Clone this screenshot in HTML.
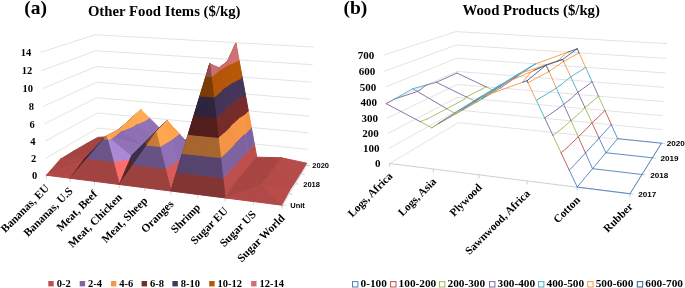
<!DOCTYPE html>
<html><head><meta charset="utf-8"><style>
html,body{margin:0;padding:0;background:#fff;}
body{width:685px;height:288px;overflow:hidden;position:relative;}
svg{position:absolute;left:0;top:0;will-change:transform;}
.t{font-family:"Liberation Serif",serif;font-weight:bold;fill:#000;}
.s{font-family:"Liberation Sans",sans-serif;font-weight:bold;fill:#000;}
</style></head><body>
<svg width="685" height="288" viewBox="0 0 685 288">
<line x1="46.45" y1="175.20" x2="98.07" y2="142.98" stroke="#d9d9d9" stroke-width="0.75"/>
<line x1="98.07" y1="142.98" x2="306.54" y2="165.58" stroke="#d9d9d9" stroke-width="0.75"/>
<line x1="45.65" y1="158.38" x2="97.69" y2="128.08" stroke="#d9d9d9" stroke-width="0.75"/>
<line x1="97.69" y1="128.08" x2="307.52" y2="149.33" stroke="#d9d9d9" stroke-width="0.75"/>
<line x1="44.85" y1="141.32" x2="97.30" y2="113.00" stroke="#d9d9d9" stroke-width="0.75"/>
<line x1="97.30" y1="113.00" x2="308.51" y2="132.86" stroke="#d9d9d9" stroke-width="0.75"/>
<line x1="44.03" y1="124.02" x2="96.91" y2="97.73" stroke="#d9d9d9" stroke-width="0.75"/>
<line x1="96.91" y1="97.73" x2="309.51" y2="116.16" stroke="#d9d9d9" stroke-width="0.75"/>
<line x1="43.20" y1="106.48" x2="96.51" y2="82.28" stroke="#d9d9d9" stroke-width="0.75"/>
<line x1="96.51" y1="82.28" x2="310.53" y2="99.24" stroke="#d9d9d9" stroke-width="0.75"/>
<line x1="42.36" y1="88.68" x2="96.11" y2="66.62" stroke="#d9d9d9" stroke-width="0.75"/>
<line x1="96.11" y1="66.62" x2="311.56" y2="82.08" stroke="#d9d9d9" stroke-width="0.75"/>
<line x1="41.50" y1="70.63" x2="95.71" y2="50.78" stroke="#d9d9d9" stroke-width="0.75"/>
<line x1="95.71" y1="50.78" x2="312.61" y2="64.69" stroke="#d9d9d9" stroke-width="0.75"/>
<line x1="40.64" y1="52.31" x2="95.30" y2="34.73" stroke="#d9d9d9" stroke-width="0.75"/>
<line x1="95.30" y1="34.73" x2="313.67" y2="47.05" stroke="#d9d9d9" stroke-width="0.75"/>
<line x1="46.45" y1="175.20" x2="282.22" y2="205.16" stroke="#bfbfbf" stroke-width="0.75"/>
<line x1="46.45" y1="175.20" x2="46.45" y2="178.70" stroke="#bfbfbf" stroke-width="0.75"/>
<line x1="70.19" y1="178.22" x2="70.19" y2="181.72" stroke="#bfbfbf" stroke-width="0.75"/>
<line x1="94.50" y1="181.31" x2="94.50" y2="184.81" stroke="#bfbfbf" stroke-width="0.75"/>
<line x1="119.38" y1="184.47" x2="119.38" y2="187.97" stroke="#bfbfbf" stroke-width="0.75"/>
<line x1="144.88" y1="187.71" x2="144.88" y2="191.21" stroke="#bfbfbf" stroke-width="0.75"/>
<line x1="170.99" y1="191.03" x2="170.99" y2="194.53" stroke="#bfbfbf" stroke-width="0.75"/>
<line x1="197.76" y1="194.43" x2="197.76" y2="197.93" stroke="#bfbfbf" stroke-width="0.75"/>
<line x1="225.21" y1="197.92" x2="225.21" y2="201.42" stroke="#bfbfbf" stroke-width="0.75"/>
<line x1="253.35" y1="201.49" x2="253.35" y2="204.99" stroke="#bfbfbf" stroke-width="0.75"/>
<line x1="282.22" y1="205.16" x2="282.22" y2="208.66" stroke="#bfbfbf" stroke-width="0.75"/>
<line x1="282.22" y1="205.16" x2="306.54" y2="165.58" stroke="#bfbfbf" stroke-width="0.75"/>
<line x1="282.22" y1="205.16" x2="285.72" y2="205.16" stroke="#bfbfbf" stroke-width="0.75"/>
<line x1="289.00" y1="194.13" x2="292.50" y2="194.13" stroke="#bfbfbf" stroke-width="0.75"/>
<line x1="295.28" y1="183.91" x2="298.78" y2="183.91" stroke="#bfbfbf" stroke-width="0.75"/>
<line x1="301.11" y1="174.42" x2="304.61" y2="174.42" stroke="#bfbfbf" stroke-width="0.75"/>
<line x1="306.54" y1="165.58" x2="310.04" y2="165.58" stroke="#bfbfbf" stroke-width="0.75"/>
<polygon points="86.22,143.84 119.18,136.14 97.93,137.34" fill="#9d423f" stroke="#9d423f" stroke-width="1" stroke-linejoin="round"/>
<polygon points="86.22,143.84 108.06,143.91 119.18,136.14" fill="#a44442" stroke="#a44442" stroke-width="1" stroke-linejoin="round"/>
<polygon points="108.06,143.91 115.42,136.15 123.56,130.70 119.18,136.14" fill="#4f2120" stroke="#4f2120" stroke-width="1" stroke-linejoin="round"/>
<polygon points="115.42,136.15 132.40,118.22 134.98,116.54 123.56,130.70" fill="#352943" stroke="#352943" stroke-width="1" stroke-linejoin="round"/>
<polygon points="132.40,118.22 140.74,109.41 134.98,116.54" fill="#663e1d" stroke="#663e1d" stroke-width="1" stroke-linejoin="round"/>
<polygon points="108.06,143.91 113.54,137.82 115.42,136.15" fill="#4f2120" stroke="#4f2120" stroke-width="1" stroke-linejoin="round"/>
<polygon points="113.54,137.82 126.49,123.39 132.40,118.22 115.42,136.15" fill="#352943" stroke="#352943" stroke-width="1" stroke-linejoin="round"/>
<polygon points="126.49,123.39 130.11,119.36 140.74,109.41 132.40,118.22" fill="#663e1d" stroke="#663e1d" stroke-width="1" stroke-linejoin="round"/>
<polygon points="153.29,138.82 163.22,131.63 149.32,117.89 145.43,120.41" fill="#9071b5" stroke="#9071b5" stroke-width="1" stroke-linejoin="round"/>
<polygon points="149.32,117.89 140.74,109.41 145.43,120.41" fill="#ffa850" stroke="#ffa850" stroke-width="1" stroke-linejoin="round"/>
<polygon points="136.03,124.32 153.29,138.82 145.43,120.41" fill="#9273b8" stroke="#9273b8" stroke-width="1" stroke-linejoin="round"/>
<polygon points="130.11,119.36 136.03,124.32 145.43,120.41 140.74,109.41" fill="#ffab51" stroke="#ffab51" stroke-width="1" stroke-linejoin="round"/>
<polygon points="182.36,139.94 185.96,140.14 174.55,135.87" fill="#b64c49" stroke="#b64c49" stroke-width="1" stroke-linejoin="round"/>
<polygon points="176.77,139.64 182.36,139.94 174.55,135.87 163.22,131.63" fill="#795f99" stroke="#795f99" stroke-width="1" stroke-linejoin="round"/>
<polygon points="153.29,138.82 176.77,139.64 163.22,131.63" fill="#6f578d" stroke="#6f578d" stroke-width="1" stroke-linejoin="round"/>
<polygon points="186.65,142.91 209.04,150.34 185.96,140.14 182.36,139.94" fill="#b94d4a" stroke="#b94d4a" stroke-width="1" stroke-linejoin="round"/>
<polygon points="176.77,139.64 186.65,142.91 182.36,139.94" fill="#7c619c" stroke="#7c619c" stroke-width="1" stroke-linejoin="round"/>
<polygon points="184.24,145.25 200.52,157.48 209.04,150.34 186.65,142.91" fill="#d15955" stroke="#d15955" stroke-width="1" stroke-linejoin="round"/>
<polygon points="176.77,139.64 184.24,145.25 186.65,142.91" fill="#8c6eb1" stroke="#8c6eb1" stroke-width="1" stroke-linejoin="round"/>
<polygon points="200.52,157.48 203.93,146.46 211.72,139.63 209.04,150.34" fill="#4f2120" stroke="#4f2120" stroke-width="1" stroke-linejoin="round"/>
<polygon points="203.93,146.46 209.20,129.43 215.61,124.12 211.72,139.63" fill="#352943" stroke="#352943" stroke-width="1" stroke-linejoin="round"/>
<polygon points="209.20,129.43 214.50,112.30 219.56,108.36 215.61,124.12" fill="#663e1d" stroke="#663e1d" stroke-width="1" stroke-linejoin="round"/>
<polygon points="214.50,112.30 219.83,95.05 223.57,92.35 219.56,108.36" fill="#311211" stroke="#311211" stroke-width="1" stroke-linejoin="round"/>
<polygon points="219.83,95.05 225.20,77.70 227.65,76.06 223.57,92.35" fill="#1d1625" stroke="#1d1625" stroke-width="1" stroke-linejoin="round"/>
<polygon points="225.20,77.70 230.61,60.23 231.80,59.50 227.65,76.06" fill="#4b2403" stroke="#4b2403" stroke-width="1" stroke-linejoin="round"/>
<polygon points="230.61,60.23 235.93,43.01 231.80,59.50" fill="#562e2e" stroke="#562e2e" stroke-width="1" stroke-linejoin="round"/>
<polygon points="200.52,157.48 203.39,147.27 203.93,146.46" fill="#4f2120" stroke="#4f2120" stroke-width="1" stroke-linejoin="round"/>
<polygon points="203.39,147.27 207.86,131.34 209.20,129.43 203.93,146.46" fill="#352943" stroke="#352943" stroke-width="1" stroke-linejoin="round"/>
<polygon points="207.86,131.34 212.41,115.13 214.50,112.30 209.20,129.43" fill="#663e1d" stroke="#663e1d" stroke-width="1" stroke-linejoin="round"/>
<polygon points="212.41,115.13 217.04,98.64 219.83,95.05 214.50,112.30" fill="#311211" stroke="#311211" stroke-width="1" stroke-linejoin="round"/>
<polygon points="217.04,98.64 221.75,81.86 225.20,77.70 219.83,95.05" fill="#1d1625" stroke="#1d1625" stroke-width="1" stroke-linejoin="round"/>
<polygon points="221.75,81.86 226.54,64.77 230.61,60.23 225.20,77.70" fill="#4b2403" stroke="#4b2403" stroke-width="1" stroke-linejoin="round"/>
<polygon points="226.54,64.77 227.51,61.32 235.93,43.01 230.61,60.23" fill="#562e2e" stroke="#562e2e" stroke-width="1" stroke-linejoin="round"/>
<polygon points="249.74,165.60 256.80,157.17 254.38,143.95 248.09,150.89" fill="#bc4f4c" stroke="#bc4f4c" stroke-width="1" stroke-linejoin="round"/>
<polygon points="254.38,143.95 251.37,127.49 246.05,132.85 248.09,150.89" fill="#7e629f" stroke="#7e629f" stroke-width="1" stroke-linejoin="round"/>
<polygon points="251.37,127.49 248.33,110.86 244.02,114.80 246.05,132.85" fill="#f29345" stroke="#f29345" stroke-width="1" stroke-linejoin="round"/>
<polygon points="248.33,110.86 245.27,94.07 241.99,96.76 244.02,114.80" fill="#752b29" stroke="#752b29" stroke-width="1" stroke-linejoin="round"/>
<polygon points="245.27,94.07 242.17,77.10 239.96,78.72 241.99,96.76" fill="#443458" stroke="#443458" stroke-width="1" stroke-linejoin="round"/>
<polygon points="242.17,77.10 239.03,59.97 237.92,60.68 239.96,78.72" fill="#b35508" stroke="#b35508" stroke-width="1" stroke-linejoin="round"/>
<polygon points="239.03,59.97 235.93,43.01 237.92,60.68" fill="#cc6e6e" stroke="#cc6e6e" stroke-width="1" stroke-linejoin="round"/>
<polygon points="246.81,151.83 249.74,165.60 248.09,150.89" fill="#c1514e" stroke="#c1514e" stroke-width="1" stroke-linejoin="round"/>
<polygon points="243.18,134.79 246.81,151.83 248.09,150.89 246.05,132.85" fill="#8165a3" stroke="#8165a3" stroke-width="1" stroke-linejoin="round"/>
<polygon points="239.50,117.57 243.18,134.79 246.05,132.85 244.02,114.80" fill="#f89746" stroke="#f89746" stroke-width="1" stroke-linejoin="round"/>
<polygon points="235.80,100.18 239.50,117.57 244.02,114.80 241.99,96.76" fill="#782c2a" stroke="#782c2a" stroke-width="1" stroke-linejoin="round"/>
<polygon points="232.05,82.63 235.80,100.18 241.99,96.76 239.96,78.72" fill="#45355b" stroke="#45355b" stroke-width="1" stroke-linejoin="round"/>
<polygon points="228.27,64.89 232.05,82.63 239.96,78.72 237.92,60.68" fill="#b75808" stroke="#b75808" stroke-width="1" stroke-linejoin="round"/>
<polygon points="227.51,61.32 228.27,64.89 237.92,60.68 235.93,43.01" fill="#d17171" stroke="#d17171" stroke-width="1" stroke-linejoin="round"/>
<polygon points="249.74,165.60 281.59,157.81 256.80,157.17" fill="#a54542" stroke="#a54542" stroke-width="1" stroke-linejoin="round"/>
<polygon points="249.74,165.60 275.31,166.70 281.59,157.81" fill="#a74543" stroke="#a74543" stroke-width="1" stroke-linejoin="round"/>
<polygon points="301.25,172.09 306.69,163.16 281.59,157.81" fill="#b64c49" stroke="#b64c49" stroke-width="1" stroke-linejoin="round"/>
<polygon points="275.31,166.70 301.25,172.09 281.59,157.81" fill="#b64c49" stroke="#b64c49" stroke-width="1" stroke-linejoin="round"/>
<polygon points="73.74,151.09 108.06,143.91 86.22,143.84" fill="#a34441" stroke="#a34441" stroke-width="1" stroke-linejoin="round"/>
<polygon points="73.74,151.09 96.18,151.49 108.06,143.91" fill="#a44442" stroke="#a44442" stroke-width="1" stroke-linejoin="round"/>
<polygon points="96.18,151.49 104.74,143.39 113.54,137.82 108.06,143.91" fill="#4f2120" stroke="#4f2120" stroke-width="1" stroke-linejoin="round"/>
<polygon points="104.74,143.39 124.68,124.51 126.49,123.39 113.54,137.82" fill="#352943" stroke="#352943" stroke-width="1" stroke-linejoin="round"/>
<polygon points="124.68,124.51 130.11,119.36 126.49,123.39" fill="#663e1d" stroke="#663e1d" stroke-width="1" stroke-linejoin="round"/>
<polygon points="96.18,151.49 102.49,145.39 104.74,143.39" fill="#532321" stroke="#532321" stroke-width="1" stroke-linejoin="round"/>
<polygon points="102.49,145.39 117.63,130.75 124.68,124.51 104.74,143.39" fill="#382b46" stroke="#382b46" stroke-width="1" stroke-linejoin="round"/>
<polygon points="117.63,130.75 118.78,129.64 130.11,119.36 124.68,124.51" fill="#6b411e" stroke="#6b411e" stroke-width="1" stroke-linejoin="round"/>
<polygon points="142.66,145.68 153.29,138.82 136.03,124.32 133.39,126.22" fill="#8e6fb3" stroke="#8e6fb3" stroke-width="1" stroke-linejoin="round"/>
<polygon points="136.03,124.32 130.11,119.36 133.39,126.22" fill="#ffa64f" stroke="#ffa64f" stroke-width="1" stroke-linejoin="round"/>
<polygon points="120.94,131.09 142.66,145.68 133.39,126.22" fill="#8f70b4" stroke="#8f70b4" stroke-width="1" stroke-linejoin="round"/>
<polygon points="118.78,129.64 120.94,131.09 133.39,126.22 130.11,119.36" fill="#ffa74f" stroke="#ffa74f" stroke-width="1" stroke-linejoin="round"/>
<polygon points="172.59,131.48 176.77,139.64 153.29,138.82 159.46,130.45" fill="#534169" stroke="#534169" stroke-width="1" stroke-linejoin="round"/>
<polygon points="166.90,120.38 172.59,131.48 159.46,130.45" fill="#a0612d" stroke="#a0612d" stroke-width="1" stroke-linejoin="round"/>
<polygon points="142.66,145.68 153.48,134.39 159.46,130.45 153.29,138.82" fill="#352943" stroke="#352943" stroke-width="1" stroke-linejoin="round"/>
<polygon points="153.48,134.39 166.90,120.38 159.46,130.45" fill="#663e1d" stroke="#663e1d" stroke-width="1" stroke-linejoin="round"/>
<polygon points="192.24,148.34 200.52,157.48 184.24,145.25" fill="#a34441" stroke="#a34441" stroke-width="1" stroke-linejoin="round"/>
<polygon points="179.17,133.92 192.24,148.34 184.24,145.25 176.77,139.64 172.59,131.48" fill="#6d5589" stroke="#6d5589" stroke-width="1" stroke-linejoin="round"/>
<polygon points="166.90,120.38 179.17,133.92 172.59,131.48" fill="#d27f3b" stroke="#d27f3b" stroke-width="1" stroke-linejoin="round"/>
<polygon points="185.20,154.44 191.38,165.95 200.52,157.48 192.24,148.34" fill="#d05855" stroke="#d05855" stroke-width="1" stroke-linejoin="round"/>
<polygon points="175.64,136.64 185.20,154.44 192.24,148.34 179.17,133.92" fill="#8b6db0" stroke="#8b6db0" stroke-width="1" stroke-linejoin="round"/>
<polygon points="166.90,120.38 175.64,136.64 179.17,133.92" fill="#ffa34d" stroke="#ffa34d" stroke-width="1" stroke-linejoin="round"/>
<polygon points="191.38,165.95 195.34,154.49 203.39,147.27 200.52,157.48" fill="#4f2120" stroke="#4f2120" stroke-width="1" stroke-linejoin="round"/>
<polygon points="195.34,154.49 201.45,136.78 207.86,131.34 203.39,147.27" fill="#352943" stroke="#352943" stroke-width="1" stroke-linejoin="round"/>
<polygon points="201.45,136.78 207.60,118.98 212.41,115.13 207.86,131.34" fill="#663e1d" stroke="#663e1d" stroke-width="1" stroke-linejoin="round"/>
<polygon points="207.60,118.98 213.79,101.07 217.04,98.64 212.41,115.13" fill="#311211" stroke="#311211" stroke-width="1" stroke-linejoin="round"/>
<polygon points="213.79,101.07 220.01,83.06 221.75,81.86 217.04,98.64" fill="#1d1625" stroke="#1d1625" stroke-width="1" stroke-linejoin="round"/>
<polygon points="220.01,83.06 226.26,64.96 226.54,64.77 221.75,81.86" fill="#4b2403" stroke="#4b2403" stroke-width="1" stroke-linejoin="round"/>
<polygon points="226.26,64.96 227.51,61.32 226.54,64.77" fill="#562e2e" stroke="#562e2e" stroke-width="1" stroke-linejoin="round"/>
<polygon points="191.38,165.95 194.33,155.43 195.34,154.49" fill="#4f2120" stroke="#4f2120" stroke-width="1" stroke-linejoin="round"/>
<polygon points="194.33,155.43 198.94,139.01 201.45,136.78 195.34,154.49" fill="#352943" stroke="#352943" stroke-width="1" stroke-linejoin="round"/>
<polygon points="198.94,139.01 203.62,122.29 207.60,118.98 201.45,136.78" fill="#663e1d" stroke="#663e1d" stroke-width="1" stroke-linejoin="round"/>
<polygon points="203.62,122.29 208.40,105.26 213.79,101.07 207.60,118.98" fill="#311211" stroke="#311211" stroke-width="1" stroke-linejoin="round"/>
<polygon points="208.40,105.26 213.26,87.93 220.01,83.06 213.79,101.07" fill="#1d1625" stroke="#1d1625" stroke-width="1" stroke-linejoin="round"/>
<polygon points="213.26,87.93 218.21,70.27 226.26,64.96 220.01,83.06" fill="#4b2403" stroke="#4b2403" stroke-width="1" stroke-linejoin="round"/>
<polygon points="218.21,70.27 218.86,67.95 227.51,61.32 226.26,64.96" fill="#562e2e" stroke="#562e2e" stroke-width="1" stroke-linejoin="round"/>
<polygon points="242.19,174.48 249.74,165.60 246.81,151.83 240.20,159.15" fill="#be4f4c" stroke="#be4f4c" stroke-width="1" stroke-linejoin="round"/>
<polygon points="246.81,151.83 243.18,134.79 237.75,140.26 240.20,159.15" fill="#7f63a1" stroke="#7f63a1" stroke-width="1" stroke-linejoin="round"/>
<polygon points="243.18,134.79 239.50,117.57 235.31,121.41 237.75,140.26" fill="#f59545" stroke="#f59545" stroke-width="1" stroke-linejoin="round"/>
<polygon points="239.50,117.57 235.80,100.18 232.87,102.59 235.31,121.41" fill="#762c2a" stroke="#762c2a" stroke-width="1" stroke-linejoin="round"/>
<polygon points="235.80,100.18 232.05,82.63 230.43,83.81 232.87,102.59" fill="#443559" stroke="#443559" stroke-width="1" stroke-linejoin="round"/>
<polygon points="232.05,82.63 228.27,64.89 228.00,65.07 230.43,83.81" fill="#b45608" stroke="#b45608" stroke-width="1" stroke-linejoin="round"/>
<polygon points="228.27,64.89 227.51,61.32 228.00,65.07" fill="#ce6f6f" stroke="#ce6f6f" stroke-width="1" stroke-linejoin="round"/>
<polygon points="239.09,160.33 242.19,174.48 240.20,159.15" fill="#bf504d" stroke="#bf504d" stroke-width="1" stroke-linejoin="round"/>
<polygon points="235.23,142.70 239.09,160.33 240.20,159.15 237.75,140.26" fill="#7f63a1" stroke="#7f63a1" stroke-width="1" stroke-linejoin="round"/>
<polygon points="231.33,124.89 235.23,142.70 237.75,140.26 235.31,121.41" fill="#f59546" stroke="#f59546" stroke-width="1" stroke-linejoin="round"/>
<polygon points="227.39,106.89 231.33,124.89 235.31,121.41 232.87,102.59" fill="#762c2a" stroke="#762c2a" stroke-width="1" stroke-linejoin="round"/>
<polygon points="223.41,88.71 227.39,106.89 232.87,102.59 230.43,83.81" fill="#453559" stroke="#453559" stroke-width="1" stroke-linejoin="round"/>
<polygon points="219.38,70.35 223.41,88.71 230.43,83.81 228.00,65.07" fill="#b55608" stroke="#b55608" stroke-width="1" stroke-linejoin="round"/>
<polygon points="218.86,67.95 219.38,70.35 228.00,65.07 227.51,61.32" fill="#cf6f6f" stroke="#cf6f6f" stroke-width="1" stroke-linejoin="round"/>
<polygon points="242.19,174.48 275.31,166.70 249.74,165.60" fill="#a64543" stroke="#a64543" stroke-width="1" stroke-linejoin="round"/>
<polygon points="242.19,174.48 268.58,175.98 275.31,166.70" fill="#a74643" stroke="#a74643" stroke-width="1" stroke-linejoin="round"/>
<polygon points="295.42,181.50 301.25,172.09 275.31,166.70" fill="#b54c49" stroke="#b54c49" stroke-width="1" stroke-linejoin="round"/>
<polygon points="268.58,175.98 295.42,181.50 275.31,166.70" fill="#b54b49" stroke="#b54b49" stroke-width="1" stroke-linejoin="round"/>
<polygon points="60.40,159.17 96.18,151.49 73.74,151.09" fill="#a44442" stroke="#a44442" stroke-width="1" stroke-linejoin="round"/>
<polygon points="60.40,159.17 83.48,160.10 96.18,151.49" fill="#a64543" stroke="#a64543" stroke-width="1" stroke-linejoin="round"/>
<polygon points="102.49,145.39 96.18,151.49 98.86,147.46" fill="#502120" stroke="#502120" stroke-width="1" stroke-linejoin="round"/>
<polygon points="117.63,130.75 102.49,145.39 98.86,147.46 105.50,137.48" fill="#362a44" stroke="#362a44" stroke-width="1" stroke-linejoin="round"/>
<polygon points="106.57,135.87 118.78,129.64 117.63,130.75 105.50,137.48" fill="#673f1d" stroke="#673f1d" stroke-width="1" stroke-linejoin="round"/>
<polygon points="83.48,160.10 89.85,153.41 98.86,147.46 96.18,151.49" fill="#4f2120" stroke="#4f2120" stroke-width="1" stroke-linejoin="round"/>
<polygon points="89.85,153.41 104.29,138.26 105.50,137.48 98.86,147.46" fill="#352943" stroke="#352943" stroke-width="1" stroke-linejoin="round"/>
<polygon points="104.29,138.26 106.57,135.87 105.50,137.48" fill="#663e1d" stroke="#663e1d" stroke-width="1" stroke-linejoin="round"/>
<polygon points="112.91,137.59 142.66,145.68 120.94,131.09" fill="#8a6cae" stroke="#8a6cae" stroke-width="1" stroke-linejoin="round"/>
<polygon points="106.57,135.87 112.91,137.59 120.94,131.09 118.78,129.64" fill="#ffa24c" stroke="#ffa24c" stroke-width="1" stroke-linejoin="round"/>
<polygon points="110.19,138.88 131.29,156.44 142.66,145.68 112.91,137.59" fill="#9172b7" stroke="#9172b7" stroke-width="1" stroke-linejoin="round"/>
<polygon points="106.57,135.87 110.19,138.88 112.91,137.59" fill="#ffaa51" stroke="#ffaa51" stroke-width="1" stroke-linejoin="round"/>
<polygon points="131.29,156.44 149.10,138.41 153.48,134.39 142.66,145.68" fill="#352943" stroke="#352943" stroke-width="1" stroke-linejoin="round"/>
<polygon points="149.10,138.41 166.90,120.38 153.48,134.39" fill="#663e1d" stroke="#663e1d" stroke-width="1" stroke-linejoin="round"/>
<polygon points="131.29,156.44 145.44,142.61 149.10,138.41" fill="#362a44" stroke="#362a44" stroke-width="1" stroke-linejoin="round"/>
<polygon points="145.44,142.61 156.14,132.15 166.90,120.38 149.10,138.41" fill="#683f1e" stroke="#683f1e" stroke-width="1" stroke-linejoin="round"/>
<polygon points="181.57,175.91 191.38,165.95 185.20,154.44 177.55,160.69" fill="#d15855" stroke="#d15855" stroke-width="1" stroke-linejoin="round"/>
<polygon points="185.20,154.44 175.64,136.64 171.92,139.37 177.55,160.69" fill="#8c6eb1" stroke="#8c6eb1" stroke-width="1" stroke-linejoin="round"/>
<polygon points="175.64,136.64 166.90,120.38 171.92,139.37" fill="#ffa44e" stroke="#ffa44e" stroke-width="1" stroke-linejoin="round"/>
<polygon points="174.07,163.00 181.57,175.91 177.55,160.69" fill="#d55b57" stroke="#d55b57" stroke-width="1" stroke-linejoin="round"/>
<polygon points="163.31,144.50 174.07,163.00 177.55,160.69 171.92,139.37" fill="#8f71b5" stroke="#8f71b5" stroke-width="1" stroke-linejoin="round"/>
<polygon points="156.14,132.15 163.31,144.50 171.92,139.37 166.90,120.38" fill="#ffa750" stroke="#ffa750" stroke-width="1" stroke-linejoin="round"/>
<polygon points="181.57,175.91 184.51,164.19 193.12,156.28 191.38,165.95" fill="#4f2120" stroke="#4f2120" stroke-width="1" stroke-linejoin="round"/>
<polygon points="184.51,164.19 188.79,147.20 195.86,141.05 193.12,156.28" fill="#352943" stroke="#352943" stroke-width="1" stroke-linejoin="round"/>
<polygon points="188.79,147.20 193.14,129.89 198.69,125.36 195.86,141.05" fill="#663e1d" stroke="#663e1d" stroke-width="1" stroke-linejoin="round"/>
<polygon points="193.14,129.89 197.58,112.26 201.60,109.20 198.69,125.36" fill="#311211" stroke="#311211" stroke-width="1" stroke-linejoin="round"/>
<polygon points="197.58,112.26 202.10,94.30 204.59,92.54 201.60,109.20" fill="#1d1625" stroke="#1d1625" stroke-width="1" stroke-linejoin="round"/>
<polygon points="202.10,94.30 206.70,76.00 207.68,75.37 204.59,92.54" fill="#4b2403" stroke="#4b2403" stroke-width="1" stroke-linejoin="round"/>
<polygon points="206.70,76.00 209.76,63.83 207.68,75.37" fill="#562e2e" stroke="#562e2e" stroke-width="1" stroke-linejoin="round"/>
<polygon points="194.33,155.43 191.38,165.95 193.12,156.28" fill="#4f2120" stroke="#4f2120" stroke-width="1" stroke-linejoin="round"/>
<polygon points="198.94,139.01 194.33,155.43 193.12,156.28 195.86,141.05" fill="#352943" stroke="#352943" stroke-width="1" stroke-linejoin="round"/>
<polygon points="203.62,122.29 198.94,139.01 195.86,141.05 198.69,125.36" fill="#663e1d" stroke="#663e1d" stroke-width="1" stroke-linejoin="round"/>
<polygon points="208.40,105.26 203.62,122.29 198.69,125.36 201.60,109.20" fill="#311211" stroke="#311211" stroke-width="1" stroke-linejoin="round"/>
<polygon points="213.26,87.93 208.40,105.26 201.60,109.20 204.59,92.54" fill="#1d1625" stroke="#1d1625" stroke-width="1" stroke-linejoin="round"/>
<polygon points="218.21,70.27 213.26,87.93 204.59,92.54 207.68,75.37" fill="#4b2403" stroke="#4b2403" stroke-width="1" stroke-linejoin="round"/>
<polygon points="209.76,63.83 218.86,67.95 218.21,70.27 207.68,75.37" fill="#562e2e" stroke="#562e2e" stroke-width="1" stroke-linejoin="round"/>
<polygon points="238.37,161.47 242.19,174.48 239.09,160.33" fill="#bc4e4b" stroke="#bc4e4b" stroke-width="1" stroke-linejoin="round"/>
<polygon points="233.57,145.09 238.37,161.47 239.09,160.33 235.23,142.70" fill="#7d629f" stroke="#7d629f" stroke-width="1" stroke-linejoin="round"/>
<polygon points="228.67,128.34 233.57,145.09 235.23,142.70 231.33,124.89" fill="#f29345" stroke="#f29345" stroke-width="1" stroke-linejoin="round"/>
<polygon points="223.65,111.22 228.67,128.34 231.33,124.89 227.39,106.89" fill="#752b29" stroke="#752b29" stroke-width="1" stroke-linejoin="round"/>
<polygon points="218.52,93.70 223.65,111.22 227.39,106.89 223.41,88.71" fill="#443458" stroke="#443458" stroke-width="1" stroke-linejoin="round"/>
<polygon points="213.26,75.79 218.52,93.70 223.41,88.71 219.38,70.35" fill="#b25508" stroke="#b25508" stroke-width="1" stroke-linejoin="round"/>
<polygon points="209.76,63.83 213.26,75.79 219.38,70.35 218.86,67.95" fill="#cc6e6e" stroke="#cc6e6e" stroke-width="1" stroke-linejoin="round"/>
<polygon points="231.14,169.50 234.07,183.94 242.19,174.48 238.37,161.47" fill="#bd4f4c" stroke="#bd4f4c" stroke-width="1" stroke-linejoin="round"/>
<polygon points="227.46,151.29 231.14,169.50 238.37,161.47 233.57,145.09" fill="#7e63a0" stroke="#7e63a0" stroke-width="1" stroke-linejoin="round"/>
<polygon points="223.73,132.87 227.46,151.29 233.57,145.09 228.67,128.34" fill="#f39445" stroke="#f39445" stroke-width="1" stroke-linejoin="round"/>
<polygon points="219.97,114.26 223.73,132.87 228.67,128.34 223.65,111.22" fill="#752b29" stroke="#752b29" stroke-width="1" stroke-linejoin="round"/>
<polygon points="216.16,95.44 219.97,114.26 223.65,111.22 218.52,93.70" fill="#443459" stroke="#443459" stroke-width="1" stroke-linejoin="round"/>
<polygon points="212.31,76.41 216.16,95.44 218.52,93.70 213.26,75.79" fill="#b35608" stroke="#b35608" stroke-width="1" stroke-linejoin="round"/>
<polygon points="209.76,63.83 212.31,76.41 213.26,75.79" fill="#cd6e6e" stroke="#cd6e6e" stroke-width="1" stroke-linejoin="round"/>
<polygon points="261.37,185.27 268.58,175.98 242.19,174.48" fill="#a74543" stroke="#a74543" stroke-width="1" stroke-linejoin="round"/>
<polygon points="234.07,183.94 261.37,185.27 242.19,174.48" fill="#a64542" stroke="#a64542" stroke-width="1" stroke-linejoin="round"/>
<polygon points="289.17,191.01 295.42,181.50 268.58,175.98" fill="#b44b48" stroke="#b44b48" stroke-width="1" stroke-linejoin="round"/>
<polygon points="261.37,185.27 289.17,191.01 268.58,175.98" fill="#b44b48" stroke="#b44b48" stroke-width="1" stroke-linejoin="round"/>
<polygon points="46.45,175.20 83.48,160.10 60.40,159.17" fill="#aa4744" stroke="#aa4744" stroke-width="1" stroke-linejoin="round"/>
<polygon points="46.45,175.20 70.19,178.22 83.48,160.10" fill="#b14a47" stroke="#b14a47" stroke-width="1" stroke-linejoin="round"/>
<polygon points="70.19,178.22 87.16,158.47 89.85,153.41 83.48,160.10" fill="#532221" stroke="#532221" stroke-width="1" stroke-linejoin="round"/>
<polygon points="87.16,158.47 103.98,138.89 104.29,138.26 89.85,153.41" fill="#372b46" stroke="#372b46" stroke-width="1" stroke-linejoin="round"/>
<polygon points="103.98,138.89 106.57,135.87 104.29,138.26" fill="#6a411e" stroke="#6a411e" stroke-width="1" stroke-linejoin="round"/>
<polygon points="70.19,178.22 94.50,181.31 100.16,159.98 87.16,158.47" fill="#a14341" stroke="#a14341" stroke-width="1" stroke-linejoin="round"/>
<polygon points="100.16,159.98 105.72,139.07 103.98,138.89 87.16,158.47" fill="#6b5488" stroke="#6b5488" stroke-width="1" stroke-linejoin="round"/>
<polygon points="105.72,139.07 106.57,135.87 103.98,138.89" fill="#cf7e3b" stroke="#cf7e3b" stroke-width="1" stroke-linejoin="round"/>
<polygon points="119.38,184.47 130.24,158.92 113.33,161.52" fill="#fd6e6b" stroke="#fd6e6b" stroke-width="1" stroke-linejoin="round"/>
<polygon points="130.24,158.92 131.29,156.44 110.19,138.88 107.46,139.26 113.33,161.52" fill="#ac88d7" stroke="#ac88d7" stroke-width="1" stroke-linejoin="round"/>
<polygon points="110.19,138.88 106.57,135.87 107.46,139.26" fill="#ffc862" stroke="#ffc862" stroke-width="1" stroke-linejoin="round"/>
<polygon points="94.50,181.31 119.38,184.47 113.33,161.52 100.16,159.98" fill="#a14341" stroke="#a14341" stroke-width="1" stroke-linejoin="round"/>
<polygon points="113.33,161.52 107.46,139.26 105.72,139.07 100.16,159.98" fill="#6b5488" stroke="#6b5488" stroke-width="1" stroke-linejoin="round"/>
<polygon points="107.46,139.26 106.57,135.87 105.72,139.07" fill="#cf7e3b" stroke="#cf7e3b" stroke-width="1" stroke-linejoin="round"/>
<polygon points="119.38,184.47 133.23,164.77 130.24,158.92" fill="#592524" stroke="#592524" stroke-width="1" stroke-linejoin="round"/>
<polygon points="133.23,164.77 147.01,145.15 145.44,142.61 131.29,156.44 130.24,158.92" fill="#3c2f4b" stroke="#3c2f4b" stroke-width="1" stroke-linejoin="round"/>
<polygon points="147.01,145.15 156.14,132.15 145.44,142.61" fill="#734621" stroke="#734621" stroke-width="1" stroke-linejoin="round"/>
<polygon points="119.38,184.47 144.88,187.71 149.15,166.63 133.23,164.77" fill="#9b413e" stroke="#9b413e" stroke-width="1" stroke-linejoin="round"/>
<polygon points="149.15,166.63 153.37,145.83 147.01,145.15 133.23,164.77" fill="#685183" stroke="#685183" stroke-width="1" stroke-linejoin="round"/>
<polygon points="153.37,145.83 156.14,132.15 147.01,145.15" fill="#c87939" stroke="#c87939" stroke-width="1" stroke-linejoin="round"/>
<polygon points="170.99,191.03 181.57,175.91 174.07,163.00 165.31,168.52" fill="#d75b58" stroke="#d75b58" stroke-width="1" stroke-linejoin="round"/>
<polygon points="174.07,163.00 163.31,144.50 159.76,146.51 165.31,168.52" fill="#9071b5" stroke="#9071b5" stroke-width="1" stroke-linejoin="round"/>
<polygon points="163.31,144.50 156.14,132.15 159.76,146.51" fill="#ffa850" stroke="#ffa850" stroke-width="1" stroke-linejoin="round"/>
<polygon points="144.88,187.71 170.99,191.03 165.31,168.52 149.15,166.63" fill="#9c413e" stroke="#9c413e" stroke-width="1" stroke-linejoin="round"/>
<polygon points="165.31,168.52 159.76,146.51 153.37,145.83 149.15,166.63" fill="#685183" stroke="#685183" stroke-width="1" stroke-linejoin="round"/>
<polygon points="159.76,146.51 156.14,132.15 153.37,145.83" fill="#c87a39" stroke="#c87a39" stroke-width="1" stroke-linejoin="round"/>
<polygon points="170.99,191.03 176.70,172.29 184.51,164.19 181.57,175.91" fill="#4f2120" stroke="#4f2120" stroke-width="1" stroke-linejoin="round"/>
<polygon points="176.70,172.29 182.45,153.43 188.79,147.20 184.51,164.19" fill="#352943" stroke="#352943" stroke-width="1" stroke-linejoin="round"/>
<polygon points="182.45,153.43 188.25,134.43 193.14,129.89 188.79,147.20" fill="#663e1d" stroke="#663e1d" stroke-width="1" stroke-linejoin="round"/>
<polygon points="188.25,134.43 194.08,115.29 197.58,112.26 193.14,129.89" fill="#311211" stroke="#311211" stroke-width="1" stroke-linejoin="round"/>
<polygon points="194.08,115.29 199.95,96.02 202.10,94.30 197.58,112.26" fill="#1d1625" stroke="#1d1625" stroke-width="1" stroke-linejoin="round"/>
<polygon points="199.95,96.02 205.86,76.62 206.70,76.00 202.10,94.30" fill="#4b2403" stroke="#4b2403" stroke-width="1" stroke-linejoin="round"/>
<polygon points="205.86,76.62 209.76,63.83 206.70,76.00" fill="#562e2e" stroke="#562e2e" stroke-width="1" stroke-linejoin="round"/>
<polygon points="170.99,191.03 197.76,194.43 199.55,174.99 176.70,172.29" fill="#823634" stroke="#823634" stroke-width="1" stroke-linejoin="round"/>
<polygon points="199.55,174.99 201.34,155.48 182.45,153.43 176.70,172.29" fill="#57446e" stroke="#57446e" stroke-width="1" stroke-linejoin="round"/>
<polygon points="201.34,155.48 203.14,135.91 188.25,134.43 182.45,153.43" fill="#a7652f" stroke="#a7652f" stroke-width="1" stroke-linejoin="round"/>
<polygon points="203.14,135.91 204.94,116.28 194.08,115.29 188.25,134.43" fill="#511e1c" stroke="#511e1c" stroke-width="1" stroke-linejoin="round"/>
<polygon points="204.94,116.28 206.75,96.58 199.95,96.02 194.08,115.29" fill="#2f243d" stroke="#2f243d" stroke-width="1" stroke-linejoin="round"/>
<polygon points="206.75,96.58 208.57,76.81 205.86,76.62 199.95,96.02" fill="#7b3b05" stroke="#7b3b05" stroke-width="1" stroke-linejoin="round"/>
<polygon points="208.57,76.81 209.76,63.83 205.86,76.62" fill="#8d4c4c" stroke="#8d4c4c" stroke-width="1" stroke-linejoin="round"/>
<polygon points="225.21,197.92 234.07,183.94 231.14,169.50 222.88,177.74" fill="#be4f4c" stroke="#be4f4c" stroke-width="1" stroke-linejoin="round"/>
<polygon points="231.14,169.50 227.46,151.29 220.56,157.58 222.88,177.74" fill="#7f63a0" stroke="#7f63a0" stroke-width="1" stroke-linejoin="round"/>
<polygon points="227.46,151.29 223.73,132.87 218.24,137.42 220.56,157.58" fill="#f49445" stroke="#f49445" stroke-width="1" stroke-linejoin="round"/>
<polygon points="223.73,132.87 219.97,114.26 215.92,117.28 218.24,137.42" fill="#762c2a" stroke="#762c2a" stroke-width="1" stroke-linejoin="round"/>
<polygon points="219.97,114.26 216.16,95.44 213.60,97.14 215.92,117.28" fill="#443459" stroke="#443459" stroke-width="1" stroke-linejoin="round"/>
<polygon points="216.16,95.44 212.31,76.41 211.28,77.01 213.60,97.14" fill="#b45608" stroke="#b45608" stroke-width="1" stroke-linejoin="round"/>
<polygon points="212.31,76.41 209.76,63.83 211.28,77.01" fill="#ce6f6f" stroke="#ce6f6f" stroke-width="1" stroke-linejoin="round"/>
<polygon points="197.76,194.43 225.21,197.92 222.88,177.74 199.55,174.99" fill="#823634" stroke="#823634" stroke-width="1" stroke-linejoin="round"/>
<polygon points="222.88,177.74 220.56,157.58 201.34,155.48 199.55,174.99" fill="#57446e" stroke="#57446e" stroke-width="1" stroke-linejoin="round"/>
<polygon points="220.56,157.58 218.24,137.42 203.14,135.91 201.34,155.48" fill="#a7662f" stroke="#a7662f" stroke-width="1" stroke-linejoin="round"/>
<polygon points="218.24,137.42 215.92,117.28 204.94,116.28 203.14,135.91" fill="#511e1c" stroke="#511e1c" stroke-width="1" stroke-linejoin="round"/>
<polygon points="215.92,117.28 213.60,97.14 206.75,96.58 204.94,116.28" fill="#2f243d" stroke="#2f243d" stroke-width="1" stroke-linejoin="round"/>
<polygon points="213.60,97.14 211.28,77.01 208.57,76.81 206.75,96.58" fill="#7b3b05" stroke="#7b3b05" stroke-width="1" stroke-linejoin="round"/>
<polygon points="211.28,77.01 209.76,63.83 208.57,76.81" fill="#8d4c4c" stroke="#8d4c4c" stroke-width="1" stroke-linejoin="round"/>
<polygon points="225.21,197.92 261.37,185.27 234.07,183.94" fill="#a84644" stroke="#a84644" stroke-width="1" stroke-linejoin="round"/>
<polygon points="225.21,197.92 253.35,201.49 261.37,185.27" fill="#b04947" stroke="#b04947" stroke-width="1" stroke-linejoin="round"/>
<polygon points="282.22,205.16 289.17,191.01 261.37,185.27" fill="#b74c49" stroke="#b74c49" stroke-width="1" stroke-linejoin="round"/>
<polygon points="253.35,201.49 282.22,205.16 261.37,185.27" fill="#b04947" stroke="#b04947" stroke-width="1" stroke-linejoin="round"/>
<line x1="282.22" y1="205.16" x2="306.54" y2="165.58" stroke="#e6e6e6" stroke-width="0.8"/>
<line x1="389.61" y1="163.46" x2="458.37" y2="122.65" stroke="#d9d9d9" stroke-width="0.75"/>
<line x1="458.37" y1="122.65" x2="661.47" y2="143.44" stroke="#d9d9d9" stroke-width="0.75"/>
<line x1="388.78" y1="148.56" x2="458.03" y2="110.04" stroke="#d9d9d9" stroke-width="0.75"/>
<line x1="458.03" y1="110.04" x2="662.24" y2="129.66" stroke="#d9d9d9" stroke-width="0.75"/>
<line x1="387.93" y1="133.47" x2="457.68" y2="97.31" stroke="#d9d9d9" stroke-width="0.75"/>
<line x1="457.68" y1="97.31" x2="663.02" y2="115.72" stroke="#d9d9d9" stroke-width="0.75"/>
<line x1="387.08" y1="118.20" x2="457.33" y2="84.44" stroke="#d9d9d9" stroke-width="0.75"/>
<line x1="457.33" y1="84.44" x2="663.80" y2="101.63" stroke="#d9d9d9" stroke-width="0.75"/>
<line x1="386.21" y1="102.74" x2="456.98" y2="71.44" stroke="#d9d9d9" stroke-width="0.75"/>
<line x1="456.98" y1="71.44" x2="664.60" y2="87.38" stroke="#d9d9d9" stroke-width="0.75"/>
<line x1="385.34" y1="87.08" x2="456.62" y2="58.30" stroke="#d9d9d9" stroke-width="0.75"/>
<line x1="456.62" y1="58.30" x2="665.40" y2="72.96" stroke="#d9d9d9" stroke-width="0.75"/>
<line x1="384.45" y1="71.22" x2="456.26" y2="45.03" stroke="#d9d9d9" stroke-width="0.75"/>
<line x1="456.26" y1="45.03" x2="666.22" y2="58.38" stroke="#d9d9d9" stroke-width="0.75"/>
<line x1="383.55" y1="55.16" x2="455.90" y2="31.61" stroke="#d9d9d9" stroke-width="0.75"/>
<line x1="455.90" y1="31.61" x2="667.04" y2="43.62" stroke="#d9d9d9" stroke-width="0.75"/>
<line x1="389.61" y1="163.46" x2="629.97" y2="194.01" stroke="#bfbfbf" stroke-width="0.75"/>
<line x1="389.61" y1="163.46" x2="389.61" y2="166.96" stroke="#bfbfbf" stroke-width="0.75"/>
<line x1="433.33" y1="169.01" x2="433.33" y2="172.51" stroke="#bfbfbf" stroke-width="0.75"/>
<line x1="479.07" y1="174.83" x2="479.07" y2="178.33" stroke="#bfbfbf" stroke-width="0.75"/>
<line x1="526.99" y1="180.92" x2="526.99" y2="184.42" stroke="#bfbfbf" stroke-width="0.75"/>
<line x1="577.23" y1="187.31" x2="577.23" y2="190.81" stroke="#bfbfbf" stroke-width="0.75"/>
<line x1="629.97" y1="194.01" x2="629.97" y2="197.51" stroke="#bfbfbf" stroke-width="0.75"/>
<line x1="629.97" y1="194.01" x2="661.47" y2="143.44" stroke="#bfbfbf" stroke-width="0.75"/>
<line x1="629.97" y1="194.01" x2="633.47" y2="194.01" stroke="#bfbfbf" stroke-width="0.75"/>
<line x1="641.94" y1="174.80" x2="645.44" y2="174.80" stroke="#bfbfbf" stroke-width="0.75"/>
<line x1="652.34" y1="158.09" x2="655.84" y2="158.09" stroke="#bfbfbf" stroke-width="0.75"/>
<line x1="661.47" y1="143.44" x2="664.97" y2="143.44" stroke="#bfbfbf" stroke-width="0.75"/>
<path d="M569.27 170.12L577.24 186.99M585.49 152.96L592.54 168.68M599.03 137.94L605.88 152.72M611.38 124.77L617.62 138.68M577.24 186.99L629.99 193.68M577.24 186.99L592.54 168.68M592.54 168.68L641.96 174.49M592.54 168.68L605.88 152.72M605.88 152.72L652.36 157.80M605.88 152.72L617.62 138.68M617.62 138.68L661.49 143.16M629.99 193.68L641.96 174.49M641.96 174.49L652.36 157.80M652.36 157.80L661.49 143.16M569.27 170.12L572.22 167.35M585.49 152.96L572.22 167.35M585.49 152.96L597.31 140.15M597.31 140.15L599.03 137.94M599.03 137.94L601.22 135.78M611.38 124.77L601.22 135.78" stroke="#4F81BD" stroke-width="0.9" fill="none" stroke-linecap="round"/>
<path d="M561.11 152.81L569.27 170.12M578.26 136.83L585.49 152.96M592.01 122.78L599.03 137.94M604.98 110.52L611.38 124.77M561.11 152.81L567.19 147.64M578.26 136.83L567.19 147.64M578.26 136.83L588.33 127.00M588.33 127.00L592.01 122.78M592.01 122.78L596.53 118.76M604.98 110.52L596.53 118.76" stroke="#C0504D" stroke-width="0.9" fill="none" stroke-linecap="round"/>
<path d="M420.23 121.64L431.76 127.72M446.78 108.70L455.77 113.97M466.42 96.99L476.86 102.08M486.09 86.83L495.52 91.30M431.76 127.72L438.34 123.52M431.76 127.72L455.77 113.97M455.77 113.97L461.65 110.13M455.77 113.97L476.86 102.08M476.86 102.08L482.29 98.41M476.86 102.08L495.52 91.30M495.52 91.30L500.28 88.02M552.89 135.41L561.11 152.81M570.99 120.62L578.26 136.83M584.96 107.56L592.01 122.78M598.54 96.20L604.98 110.52M420.23 121.64L427.43 118.85M446.78 108.70L427.43 118.85M446.78 108.70L464.11 99.43M464.11 99.43L466.42 96.99M466.42 96.99L481.69 89.19M481.69 89.19L486.09 86.83M438.34 123.52L441.77 121.46M441.77 121.46L461.65 110.13M461.65 110.13L464.42 108.45M464.42 108.45L482.29 98.41M482.29 98.41L484.69 96.97M484.69 96.97L500.28 88.02M552.89 135.41L562.24 128.27M570.99 120.62L562.24 128.27M570.99 120.62L579.12 113.50M579.12 113.50L584.96 107.56M584.96 107.56L591.91 102.00M598.54 96.20L591.91 102.00" stroke="#9BBB59" stroke-width="0.9" fill="none" stroke-linecap="round"/>
<path d="M386.27 103.73L420.23 121.64M386.27 103.73L394.55 99.05M417.13 91.35L446.78 108.70M426.10 85.10L436.30 82.30M436.30 82.30L466.42 96.99M436.30 82.30L457.02 73.08M457.02 73.08L486.09 86.83M438.34 123.52L459.85 109.79M461.65 110.13L481.65 97.06M482.29 98.41L500.75 85.92M500.28 88.02L517.59 76.09M544.64 117.92L552.89 135.41M563.68 104.32L570.99 120.62M577.87 92.26L584.96 107.56M592.08 81.81L598.54 96.20M414.55 92.48L394.55 99.05M417.13 91.35L414.55 92.48M417.13 91.35L419.67 90.21M419.67 90.21L426.10 85.10M459.85 109.79L473.14 101.87M473.14 101.87L481.65 97.06M481.65 97.06L492.75 90.36M492.75 90.36L500.75 85.92M500.75 85.92L510.38 80.18M510.38 80.18L517.59 76.09M544.64 117.92L557.38 109.23M563.68 104.32L557.38 109.23M563.68 104.32L569.67 99.65M569.67 99.65L577.87 92.26M577.87 92.26L587.36 85.49M592.08 81.81L587.36 85.49" stroke="#8064A2" stroke-width="0.9" fill="none" stroke-linecap="round"/>
<path d="M394.55 99.05L412.73 88.77M412.73 88.77L417.13 91.35M412.73 88.77L426.10 85.10M459.85 109.79L477.61 98.46M481.65 97.06L499.38 85.47M500.75 85.92L518.42 73.96M517.59 76.09L535.21 63.96M477.61 98.46L484.95 95.82M477.61 98.46L499.38 85.47M499.38 85.47L503.56 83.65M499.38 85.47L518.42 73.96M518.42 73.96L520.93 73.14M518.42 73.96L535.21 63.96M535.21 63.96L535.52 63.84M536.33 100.33L544.64 117.92M556.33 87.93L563.68 104.32M570.74 76.89L577.87 92.26M585.59 67.36L592.08 81.81M484.95 95.82L486.57 94.10M486.57 94.10L503.56 83.65M503.56 83.65L519.64 73.58M520.93 73.14L519.64 73.58M520.93 73.14L521.57 72.61M521.57 72.61L535.52 63.84M536.33 100.33L552.60 90.50M556.33 87.93L552.60 90.50M556.33 87.93L559.96 85.43M559.96 85.43L570.74 76.89M570.74 76.89L582.87 69.22M585.59 67.36L582.87 69.22" stroke="#4BACC6" stroke-width="0.9" fill="none" stroke-linecap="round"/>
<path d="M484.95 95.82L522.78 82.23M503.56 83.65L534.16 70.36M520.93 73.14L557.74 61.04M535.52 63.84L567.92 52.13M527.98 82.64L536.33 100.33M548.94 71.44L556.33 87.93M563.58 61.44L570.74 76.89M579.06 52.83L585.59 67.36M522.78 82.23L530.11 72.94M530.11 72.94L534.16 70.36M534.16 70.36L538.33 67.64M557.74 61.04L538.33 67.64M557.74 61.04L565.36 53.85M565.36 53.85L567.92 52.13M527.98 82.64L547.89 72.08M548.94 71.44L547.89 72.08M548.94 71.44L549.99 70.82M549.99 70.82L563.58 61.44M563.58 61.44L578.46 53.20M579.06 52.83L578.46 53.20" stroke="#F79646" stroke-width="0.9" fill="none" stroke-linecap="round"/>
<path d="M522.78 82.23L527.06 80.69M534.16 70.36L546.13 65.16M557.74 61.04L562.65 59.42M567.92 52.13L577.23 48.76M527.06 80.69L527.98 82.64M527.06 80.69L546.13 65.16M546.13 65.16L548.94 71.44M546.13 65.16L562.65 59.42M562.65 59.42L563.58 61.44M562.65 59.42L577.23 48.76M577.23 48.76L579.06 52.83" stroke="#3C5A87" stroke-width="0.9" fill="none" stroke-linecap="round"/>
<text x="24.20" y="13.60" class="t" font-size="19.5" text-anchor="start">(a)</text>
<text x="87.90" y="15.70" class="t" font-size="14.75" text-anchor="start">Other Food Items ($/kg)</text>
<text x="37.15" y="178.70" class="t" font-size="10.5" text-anchor="end">0</text>
<text x="36.35" y="161.88" class="t" font-size="10.5" text-anchor="end">2</text>
<text x="35.55" y="144.82" class="t" font-size="10.5" text-anchor="end">4</text>
<text x="34.73" y="127.52" class="t" font-size="10.5" text-anchor="end">6</text>
<text x="33.90" y="109.98" class="t" font-size="10.5" text-anchor="end">8</text>
<text x="33.06" y="92.18" class="t" font-size="10.5" text-anchor="end">10</text>
<text x="32.20" y="74.13" class="t" font-size="10.5" text-anchor="end">12</text>
<text x="31.34" y="55.81" class="t" font-size="10.5" text-anchor="end">14</text>
<text x="49.75" y="188.80" class="t" font-size="11.3" text-anchor="end" transform="rotate(-45 49.75 188.80)">Bananas, EU</text>
<text x="73.49" y="191.82" class="t" font-size="11.3" text-anchor="end" transform="rotate(-45 73.49 191.82)">Bananas, U.S</text>
<text x="97.80" y="194.91" class="t" font-size="11.3" text-anchor="end" transform="rotate(-45 97.80 194.91)">Meat, Beef</text>
<text x="122.68" y="198.07" class="t" font-size="11.3" text-anchor="end" transform="rotate(-45 122.68 198.07)">Meat, Chicken</text>
<text x="148.18" y="201.31" class="t" font-size="11.3" text-anchor="end" transform="rotate(-45 148.18 201.31)">Meat, Sheep</text>
<text x="174.29" y="204.63" class="t" font-size="11.3" text-anchor="end" transform="rotate(-45 174.29 204.63)">Oranges</text>
<text x="201.06" y="208.03" class="t" font-size="11.3" text-anchor="end" transform="rotate(-45 201.06 208.03)">Shrimp</text>
<text x="228.51" y="211.52" class="t" font-size="11.3" text-anchor="end" transform="rotate(-45 228.51 211.52)">Sugar EU</text>
<text x="256.65" y="215.09" class="t" font-size="11.3" text-anchor="end" transform="rotate(-45 256.65 215.09)">Sugar US</text>
<text x="285.52" y="218.76" class="t" font-size="11.3" text-anchor="end" transform="rotate(-45 285.52 218.76)">Sugar World</text>
<text x="290.22" y="207.86" class="s" font-size="7.5" text-anchor="start">Unit</text>
<text x="303.28" y="186.61" class="s" font-size="7.5" text-anchor="start">2018</text>
<text x="312.34" y="168.28" class="s" font-size="7.5" text-anchor="start">2020</text>
<rect x="48.3" y="281" width="5.4" height="5.4" fill="#c0504d"/>
<text x="56.70" y="287.00" class="t" font-size="10.5" text-anchor="start">0-2</text>
<rect x="79.7" y="281" width="5.4" height="5.4" fill="#8064a2"/>
<text x="88.10" y="287.00" class="t" font-size="10.5" text-anchor="start">2-4</text>
<rect x="110.9" y="281" width="5.4" height="5.4" fill="#f79646"/>
<text x="119.30" y="287.00" class="t" font-size="10.5" text-anchor="start">4-6</text>
<rect x="141.6" y="281" width="5.4" height="5.4" fill="#772c2a"/>
<text x="150.00" y="287.00" class="t" font-size="10.5" text-anchor="start">6-8</text>
<rect x="172.4" y="281" width="5.4" height="5.4" fill="#45355a"/>
<text x="180.80" y="287.00" class="t" font-size="10.5" text-anchor="start">8-10</text>
<rect x="209.2" y="281" width="5.4" height="5.4" fill="#b65708"/>
<text x="217.60" y="287.00" class="t" font-size="10.5" text-anchor="start">10-12</text>
<rect x="251.1" y="281" width="5.4" height="5.4" fill="#d07070"/>
<text x="259.50" y="287.00" class="t" font-size="10.5" text-anchor="start">12-14</text>
<text x="343.40" y="13.60" class="t" font-size="19.5" text-anchor="start">(b)</text>
<text x="462.50" y="15.00" class="t" font-size="14.75" text-anchor="start">Wood Products ($/kg)</text>
<text x="380.41" y="167.16" class="t" font-size="11" text-anchor="end">0</text>
<text x="379.58" y="152.26" class="t" font-size="11" text-anchor="end">100</text>
<text x="378.73" y="137.17" class="t" font-size="11" text-anchor="end">200</text>
<text x="377.88" y="121.90" class="t" font-size="11" text-anchor="end">300</text>
<text x="377.01" y="106.44" class="t" font-size="11" text-anchor="end">400</text>
<text x="376.14" y="90.78" class="t" font-size="11" text-anchor="end">500</text>
<text x="375.25" y="74.92" class="t" font-size="11" text-anchor="end">600</text>
<text x="374.35" y="58.86" class="t" font-size="11" text-anchor="end">700</text>
<text x="393.21" y="176.76" class="t" font-size="11.1" text-anchor="end" transform="rotate(-45 393.21 176.76)">Logs, Africa</text>
<text x="436.93" y="182.31" class="t" font-size="11.1" text-anchor="end" transform="rotate(-45 436.93 182.31)">Logs, Asia</text>
<text x="482.67" y="188.13" class="t" font-size="11.1" text-anchor="end" transform="rotate(-45 482.67 188.13)">Plywood</text>
<text x="530.59" y="194.22" class="t" font-size="11.1" text-anchor="end" transform="rotate(-45 530.59 194.22)">Sawnwood, Africa</text>
<text x="580.83" y="200.61" class="t" font-size="11.1" text-anchor="end" transform="rotate(-45 580.83 200.61)">Cotton</text>
<text x="633.57" y="207.31" class="t" font-size="11.1" text-anchor="end" transform="rotate(-45 633.57 207.31)">Rubber</text>
<text x="638.17" y="197.01" class="s" font-size="8.1" text-anchor="start">2017</text>
<text x="650.14" y="177.80" class="s" font-size="8.1" text-anchor="start">2018</text>
<text x="660.54" y="161.09" class="s" font-size="8.1" text-anchor="start">2019</text>
<text x="666.77" y="146.44" class="s" font-size="8.1" text-anchor="start">2020</text>
<rect x="352.5" y="281.6" width="5.4" height="5.4" fill="none" stroke="#4F81BD" stroke-width="1"/>
<text x="360.50" y="287.30" class="t" font-size="11.3" text-anchor="start">0-100</text>
<rect x="390.6" y="281.6" width="5.4" height="5.4" fill="none" stroke="#C0504D" stroke-width="1"/>
<text x="398.60" y="287.30" class="t" font-size="11.3" text-anchor="start">100-200</text>
<rect x="439.5" y="281.6" width="5.4" height="5.4" fill="none" stroke="#9BBB59" stroke-width="1"/>
<text x="447.50" y="287.30" class="t" font-size="11.3" text-anchor="start">200-300</text>
<rect x="489.5" y="281.6" width="5.4" height="5.4" fill="none" stroke="#8064A2" stroke-width="1"/>
<text x="497.50" y="287.30" class="t" font-size="11.3" text-anchor="start">300-400</text>
<rect x="538.5" y="281.6" width="5.4" height="5.4" fill="none" stroke="#4BACC6" stroke-width="1"/>
<text x="546.50" y="287.30" class="t" font-size="11.3" text-anchor="start">400-500</text>
<rect x="587.7" y="281.6" width="5.4" height="5.4" fill="none" stroke="#F79646" stroke-width="1"/>
<text x="595.70" y="287.30" class="t" font-size="11.3" text-anchor="start">500-600</text>
<rect x="637.3" y="281.6" width="5.4" height="5.4" fill="none" stroke="#3C5A87" stroke-width="1"/>
<text x="645.30" y="287.30" class="t" font-size="11.3" text-anchor="start">600-700</text>
</svg>
</body></html>
